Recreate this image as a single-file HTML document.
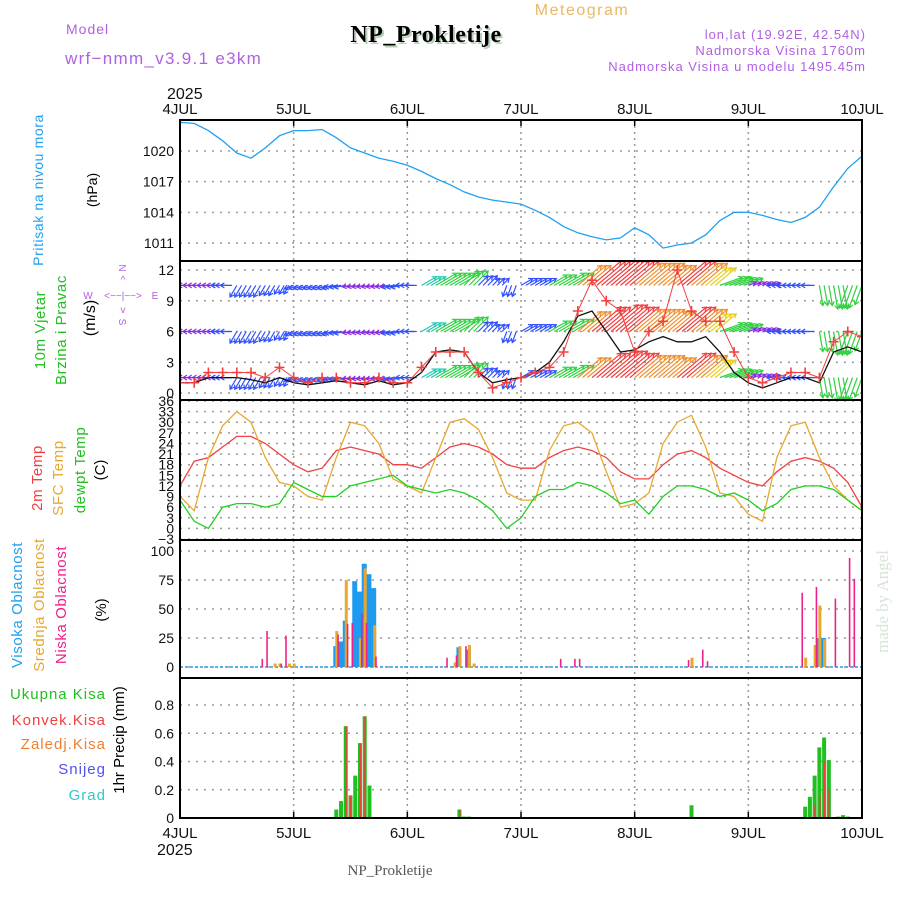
<!DOCTYPE html>
<html><head><meta charset="utf-8"><style>
html,body{margin:0;padding:0;background:#fff;}
svg{display:block;font-family:"Liberation Sans",sans-serif;}
</style></head><body>
<svg id="chart" width="900" height="900" viewBox="0 0 900 900" xmlns="http://www.w3.org/2000/svg">
<defs>
<clipPath id="cp1"><rect x="180" y="120" width="682" height="141"/></clipPath>
<clipPath id="cp2"><rect x="180" y="261" width="682" height="139"/></clipPath>
<clipPath id="cp3"><rect x="180" y="400" width="682" height="140"/></clipPath>
<clipPath id="cp4"><rect x="180" y="540" width="682" height="138"/></clipPath>
<clipPath id="cp5"><rect x="180" y="678" width="682" height="140"/></clipPath>
</defs>
<!-- header -->
<text x="582" y="15" font-size="16" fill="#eab865" text-anchor="middle" letter-spacing="1.5">Meteogram</text>
<text x="66" y="34" font-size="14" fill="#b060e0" letter-spacing="1">Model</text>
<text x="65" y="64" font-size="17" fill="#b060e0" letter-spacing="1.3">wrf−nmm_v3.9.1 e3km</text>
<text x="428" y="44" font-size="24" font-weight="bold" fill="#b8d0b8" text-anchor="middle" font-family="Liberation Serif,serif" letter-spacing="0.5">NP_Prokletije</text>
<text x="426" y="42" font-size="24" font-weight="bold" fill="#000" text-anchor="middle" font-family="Liberation Serif,serif" letter-spacing="0.5">NP_Prokletije</text>
<text x="866" y="39" font-size="13" fill="#b060e0" text-anchor="end" letter-spacing="1">lon,lat (19.92E, 42.54N)</text>
<text x="866" y="55" font-size="13" fill="#b060e0" text-anchor="end" letter-spacing="1">Nadmorska Visina 1760m</text>
<text x="866" y="71" font-size="13" fill="#b060e0" text-anchor="end" letter-spacing="1">Nadmorska Visina u modelu 1495.45m</text>
<text x="167" y="99" font-size="16" fill="#111">2025</text>
<text x="157" y="855" font-size="16" fill="#111">2025</text>
<text x="390" y="875" font-size="15" fill="#555" text-anchor="middle" font-family="Liberation Serif,serif">NP_Prokletije</text>
<text transform="translate(888,653) rotate(-90)" font-size="17" fill="#d8e4d8" font-family="Liberation Serif,serif">made by Angel</text>

<!-- left labels -->
<text transform="translate(43,190) rotate(-90)" font-size="14" fill="#20a0f0" text-anchor="middle" letter-spacing="0.6">Pritisak na nivou mora</text>
<text transform="translate(97,190) rotate(-90)" font-size="14" fill="#000" text-anchor="middle">(hPa)</text>
<text transform="translate(45,330) rotate(-90)" font-size="15" fill="#20c020" text-anchor="middle" letter-spacing="0.6">10m Vjetar</text>
<text transform="translate(66,330) rotate(-90)" font-size="15" fill="#20c020" text-anchor="middle" letter-spacing="0.6">Brzina i Pravac</text>
<text transform="translate(95,318) rotate(-90)" font-size="16" fill="#000" text-anchor="middle">(m/s)</text>
<g fill="#b060e0" font-size="10" text-anchor="middle">
<text x="123" y="272" transform="rotate(90,123,268)">N</text>
<text x="123" y="299" >&lt;−−|−−&gt;</text>
<text x="123" y="283">^</text>
<text x="123" y="313">v</text>
<text x="123" y="326" transform="rotate(90,123,322)">S</text>
<text x="88" y="299">W</text>
<text x="155" y="299">E</text>
</g>
<text transform="translate(42,478) rotate(-90)" font-size="15" fill="#f04040" text-anchor="middle" letter-spacing="0.6">2m Temp</text>
<text transform="translate(63,478) rotate(-90)" font-size="15" fill="#e8a830" text-anchor="middle" letter-spacing="0.6">SFC Temp</text>
<text transform="translate(85,470) rotate(-90)" font-size="15" fill="#20c020" text-anchor="middle" letter-spacing="0.6">dewpt Temp</text>
<text transform="translate(105,470) rotate(-90)" font-size="15" fill="#000" text-anchor="middle">(C)</text>
<text transform="translate(22,605) rotate(-90)" font-size="15" fill="#20a0f0" text-anchor="middle" letter-spacing="0.6">Visoka Oblacnost</text>
<text transform="translate(44,605) rotate(-90)" font-size="15" fill="#e8a830" text-anchor="middle" letter-spacing="0.6">Srednja Oblacnost</text>
<text transform="translate(66,605) rotate(-90)" font-size="15" fill="#f0208a" text-anchor="middle" letter-spacing="0.6">Niska Oblacnost</text>
<text transform="translate(106,610) rotate(-90)" font-size="15" fill="#000" text-anchor="middle">(%)</text>
<g font-size="15" text-anchor="end" letter-spacing="1">
<text x="106" y="699" fill="#20c020">Ukupna  Kisa</text>
<text x="106" y="725" fill="#f04040">Konvek.Kisa</text>
<text x="106" y="749" fill="#f08030">Zaledj.Kisa</text>
<text x="106" y="774" fill="#5050f0">Snijeg</text>
<text x="106" y="800" fill="#30c8c8">Grad</text>
</g>
<text transform="translate(124,740) rotate(-90)" font-size="15" fill="#000" text-anchor="middle">1hr Precip (mm)</text>

<g id="grid"></g>
<g id="marks"></g>
<g id="frames"></g>
</svg>
<script>
// ---- data (3-hourly from 4JUL 00UTC unless noted) ----
const dayLabels = ["4JUL","5JUL","6JUL","7JUL","8JUL","9JUL","10JUL"];
const pressTicks = [1011,1014,1017,1020];
const windTicks = [0,3,6,9,12];
const tempTicks = [-3,0,3,6,9,12,15,18,21,24,27,30,33,36];
const cloudTicks = [0,25,50,75,100];
const precipTicks = [0,0.2,0.4,0.6,0.8];
const pressure = [1022.8,1022.7,1022.0,1021.0,1019.8,1019.3,1020.3,1021.5,
 1022.0,1022.0,1022.1,1021.3,1020.3,1019.8,1019.3,1019.0,
 1018.6,1018.0,1017.3,1016.7,1016.0,1015.5,1015.2,1015.0,
 1014.8,1014.2,1013.5,1012.6,1012.0,1011.6,1011.3,1011.5,
 1012.5,1011.8,1010.5,1010.8,1011.0,1011.8,1013.2,1014.0,
 1014.0,1013.7,1013.3,1013.0,1013.5,1014.5,1016.5,1018.3,1019.5];
const windSpeed = [1,1,2,2,2,2,1.5,2.5,1.5,1,1.5,1.5,1,1,1.5,1,
 1,2.5,4,4,4,2,0.5,1,1.5,2,2.5,4,8,11,9,8,
 4,6,7,12,8,7,7,4,1.5,1,1.5,2,2,1.5,5,6,5.5];
const windSpeedLine = [1,1,1.5,1.5,1.5,1.3,1,1.5,1,0.8,1,1.2,1,0.8,1.2,0.8,
 1,2,4,4.2,4,2,1,1.3,1.5,2,3,5,7.5,8,6,4,
 4.2,5,5.5,5,5,5.5,4,2,1,0.5,1,1.5,1.5,1,4,4.5,4];
const arrowSpeed = [1,1,1,2.5,3,3,2.5,2,2,2,2,2.5,1.5,1.5,1.5,2.5,
 2.5,4,6,6,5,3,2,2.5,3,3,5,6,8,10,11,10,
 9,9,8,10,9,7,6,5,1.5,1.5,2,3,3,5,6,6,5];
const arrowDir = [270,270,270,270,210,210,210,210,250,250,250,260,260,260,260,260,
 270,60,60,60,45,45,45,200,60,60,60,60,50,50,50,50,
 50,50,50,50,50,50,70,70,70,70,270,270,270,170,170,200,200];
const temp2m = [12,19,20,23,26,26,24,21,18,16,17,22,23,22,21,18,
 18,17,20,23,24,23,21,18,17,17,20,22,23,22,20,16,
 14,14,18,21,22,20,17,15,13,12,16,19,20,19,17,13,6];
const tempSfc = [9,5,20,29,33,30,20,13,12,9,8,20,30,29,24,14,
 12,10,20,30,31,28,20,10,8,8,22,29,30,27,16,6,
 7,10,24,30,32,23,10,9,4,2,20,29,30,20,12,8,5];
const dewpt = [8,2,0,6,7,7,6,7,13,11,9,9,12,13,14,15,
 12,11,10,11,10,8,5,0,3,9,11,11,13,12,10,7,
 8,4,9,12,12,11,9,10,8,5,7,11,12,12,11,8,5];
// hourly bars: [hour, value]
const highCloud = [[33,18],[34,22],[35,40],[37,74],[38,65],[39,89],[40,80],[41,68],[59,17],[61,15],[135,25],[136,25]];
const midCloud = [[20,3],[21,3],[23,3],[24,3],[33,31],[35,75],[38,25],[39,85],[41,36],[58,4],[59,18],[61,19],[62,3],[108,8],[132,8],[134,19],[135,53],[136,24]];
const lowCloud = [[17,7],[18,31],[21,3],[22,27],[33,28],[35,37],[36,38],[38,46],[39,38],[41,9],[56,8],[58,10],[60,18],[80,7],[83,7],[84,7],[107,6],[110,15],[111,5],[131,64],[134,69],[138,59],[141,94],[142,76]];
const totalPrecip = [[33,0.06],[34,0.12],[35,0.65],[36,0.16],[37,0.30],[38,0.53],[39,0.72],[40,0.23],[59,0.06],[60,0.01],[61,0.01],[108,0.09],[132,0.08],[133,0.15],[134,0.30],[135,0.50],[136,0.57],[137,0.41],[139,0.01],[140,0.02],[141,0.01]];
const convPrecip = [[35,0.65],[36,0.16],[38,0.53],[39,0.72],[59,0.06],[134,0.09],[135,0.16],[136,0.40],[137,0.2]];

// ---- scales ----
const X0=180,X1=862,H=144;
const X=h=>X0+h*(X1-X0)/H;
const Yp=p=>151+(1020-p)*10.22;
const Yw=v=>393-v*10.25;
const Yt=t=>539-(t+3)*3.538;
const Yc=c=>667-c*1.16;
const Yr=p=>818-p*141.25;
const NS="http://www.w3.org/2000/svg";
function mk(tag,attrs,parent){const e=document.createElementNS(NS,tag);for(const k in attrs)e.setAttribute(k,attrs[k]);parent.appendChild(e);return e;}
const grid=document.getElementById('grid'),marks=document.getElementById('marks'),frames=document.getElementById('frames');
const panels=[[120,261],[261,400],[400,540],[540,678],[678,818]];

for(let d=0;d<=6;d++){
  const x=X(d*24);
  const l=mk('line',{x1:x,x2:x,y1:120,y2:818,stroke:'#999','stroke-dasharray':'2,4','stroke-width':1.5},grid);
  
  const t1=mk('text',{x:x,y:114,'font-size':15,'text-anchor':'middle',fill:'#111'},grid);t1.textContent=dayLabels[d];
  
  const t2=mk('text',{x:x,y:838,'font-size':15,'text-anchor':'middle',fill:'#111'},grid);t2.textContent=dayLabels[d];
  
}
function yTicks(ticks,Y,fmt,name){
  ticks.forEach(v=>{const y=Y(v);
    const l=mk('line',{x1:X0,x2:X1,y1:y,y2:y,stroke:'#999','stroke-dasharray':'2,6','stroke-width':1.5},grid);
    
    const t=mk('text',{x:174,y:y+5,'font-size':14,'text-anchor':'end',fill:'#111'},grid);t.textContent=fmt(v);
    
  });
}
yTicks(pressTicks,Yp,v=>v,'pressure');
yTicks(windTicks,Yw,v=>v,'wind');
yTicks(tempTicks,Yt,v=>v<0?'−'+(-v):v,'temp');
yTicks(cloudTicks,Yc,v=>v,'cloud');
yTicks(precipTicks,Yr,v=>v===0?'0':v.toFixed(1),'precip');

function line(arr,Y,color,clip,name,w){
  const pts=arr.map((v,i)=>X(i*3).toFixed(1)+','+Y(v).toFixed(1)).join(' ');
  const p=mk('polyline',{points:pts,fill:'none',stroke:color,'stroke-width':w||1.3,'clip-path':'url(#'+clip+')'},marks);
  
}
line(pressure,Yp,'#20a0f0','cp1','pressure-line');

// wind arrows (drawn every hour using the 3-hourly value of that period)
function spdColor(s){return s<2?'#8a2be2':s<3.5?'#3050ff':s<5?'#20c8b0':s<6.5?'#30d040':s<8?'#e8d020':s<10?'#f09030':'#f04040';}
const ag=mk('g',{'clip-path':'url(#cp2)'},marks);

[1.5,6,10.5].forEach(lv=>{
  for(let h=0;h<=144;h++){
    const i=Math.floor(h/3),s=arrowSpeed[i];
    const d=arrowDir[i]*Math.PI/180,len=3+s*3.5;
    const x0=X(h),y0=Yw(lv),x1=x0+Math.sin(d)*len,y1=y0-Math.cos(d)*len;
    const c=spdColor(s),a=Math.atan2(y1-y0,x1-x0);
    const hx=Math.cos(a),hy=Math.sin(a);
    const pth=`M${x0},${y0}L${x1},${y1}M${x1-4*hx+2.5*hy},${y1-4*hy-2.5*hx}L${x1},${y1}L${x1-4*hx-2.5*hy},${y1-4*hy+2.5*hx}`;
    const p=mk('path',{d:pth,stroke:c,'stroke-width':1.2,fill:'none'},ag);
    
  }
});
line(windSpeedLine,Yw,'#111','cp2','wind-speed-line');
line(windSpeed,Yw,'#f04040','cp2','wind-gust-line',1);
const cg=mk('g',{'clip-path':'url(#cp2)'},marks);
windSpeed.forEach((v,i)=>{const x=X(i*3),y=Yw(v);
  const p=mk('path',{d:`M${x-5},${y}H${x+5}M${x},${y-5}V${y+5}`,stroke:'#f04040','stroke-width':1.6},cg);
  });

line(temp2m,Yt,'#f04040','cp3','temp-2m-line');
line(tempSfc,Yt,'#e8a830','cp3','temp-sfc-line');
line(dewpt,Yt,'#20d020','cp3','dewpoint-line');

function bars(arr,Y,color,off,w,name,clip){
  arr.forEach(([h,v])=>{const x=X(h)+off,y=Y(v),y0=Y(0);
    const r=mk('rect',{x:x,y:y,width:w,height:Math.max(0,y0-y),fill:color,'clip-path':'url(#'+clip+')'},marks);
    });
}
const cb=mk('line',{x1:X0,x2:X1,y1:Yc(0),y2:Yc(0),stroke:'#20a0f0','stroke-width':1.5,'stroke-dasharray':'3,2'},marks);

bars(highCloud,Yc,'#1e9af0',-3,5,'high-cloud-bar','cp4');
bars(midCloud,Yc,'#e8a830',-1,3,'mid-cloud-bar','cp4');
bars(lowCloud,Yc,'#f0208a',1,1.6,'low-cloud-bar','cp4');
bars(totalPrecip,Yr,'#20c020',-2,4,'total-precip-bar','cp5');
bars(convPrecip,Yr,'#f04040',-0.5,1.6,'conv-precip-bar','cp5');

panels.forEach(([a,b])=>{const r=mk('rect',{x:X0,y:a,width:X1-X0,height:b-a,fill:'none',stroke:'#000','stroke-width':2},frames);
  });
for(let d=0;d<=6;d++){const x=X(d*24);
  mk('line',{x1:x,x2:x,y1:120,y2:126,stroke:'#000','stroke-width':1.5},frames);
  mk('line',{x1:x,x2:x,y1:812,y2:818,stroke:'#000','stroke-width':1.5},frames);}
</script>
</body></html>
